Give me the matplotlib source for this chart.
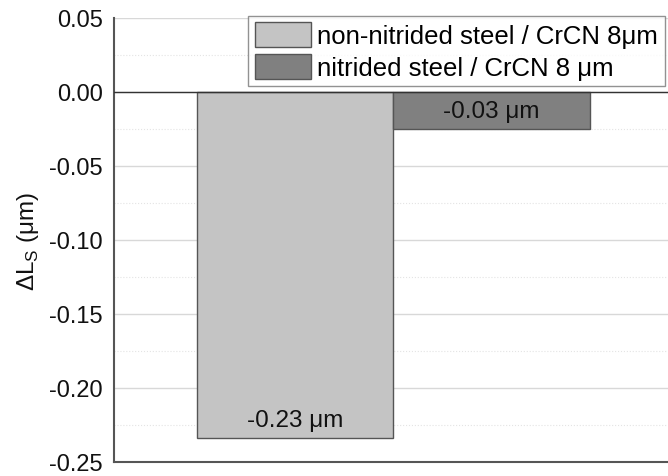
import matplotlib
matplotlib.use("Agg")
import matplotlib.pyplot as plt
from matplotlib.ticker import MultipleLocator

plt.rcParams['font.family'] = ['Liberation Sans', 'DejaVu Sans']
plt.rcParams['mathtext.fontset'] = 'custom'
plt.rcParams['mathtext.rm'] = 'Liberation Sans'

series = ["non-nitrided steel / CrCN 8\u03bcm", "nitrided steel / CrCN 8 \u03bcm"]
values = [-0.234, -0.025]
labels = ["-0.23 \u03bcm", "-0.03 \u03bcm"]
colors = ["#c4c4c4", "#808080"]
yticks = [0.05, 0.00, -0.05, -0.10, -0.15, -0.20, -0.25]

fig = plt.figure(figsize=(6.68, 4.77), dpi=100)
ax = fig.add_axes([0.1707, 0.0294, 0.8293, 0.9308])

for i, (s, v, c) in enumerate(zip(series, values, colors)):
    ax.bar(i, v, width=1.0, color=c, edgecolor="#555555", linewidth=1.0, label=s, zorder=3)

for i, (v, t) in enumerate(zip(values, labels)):
    ax.annotate(t, xy=(i, v), xytext=(0, 18), textcoords='offset pixels',
                ha='center', va='center', fontsize=17.5, color='#111111', zorder=5)

ax.set_ylim(-0.25, 0.05)
ax.set_xlim(-0.922, 1.897)
ax.set_yticks(yticks)
ax.set_yticklabels([f"{t:.2f}" for t in yticks])
ax.yaxis.set_minor_locator(MultipleLocator(0.025))
ax.set_xticks([])
ax.tick_params(axis='y', which='both', length=0, labelsize=17, pad=8, colors='#111111')

ax.grid(axis='y', which='major', color='#d8d8d8', linewidth=1.0, linestyle='-', zorder=0)
ax.grid(axis='y', which='minor', color='#e4e4e4', linewidth=0.8, linestyle=':', zorder=0)
ax.axhline(0, color='#333333', linewidth=1.0, zorder=4)

for side in ['top', 'right']:
    ax.spines[side].set_visible(False)
for side in ['left', 'bottom']:
    ax.spines[side].set_color('#555555')
    ax.spines[side].set_linewidth(1.5)

ax.set_ylabel(r'$\Delta$L$_\mathregular{S}$ ($\mathregular{\mu}$m)', fontsize=17.5, labelpad=6, color='#111111')

leg = ax.legend(loc='upper left', bbox_to_anchor=(0.242, 1.0045), borderaxespad=0,
                fontsize=18.5, frameon=True, fancybox=False, handlelength=2.2,
                handleheight=1.09, handletextpad=0.25, labelspacing=0.22,
                borderpad=0.25, edgecolor='#777777')
leg.get_frame().set_linewidth(1.0)
leg.set_zorder(6)

fig.savefig("out.png", dpi=100)
